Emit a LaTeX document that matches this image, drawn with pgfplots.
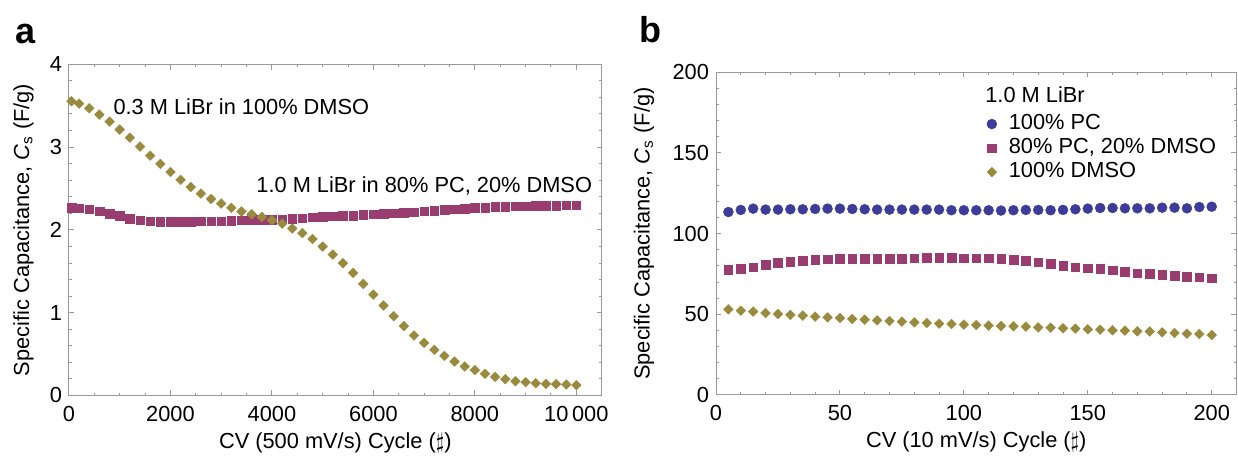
\documentclass[border=0pt]{standalone}
\usepackage{fontspec}
\setmainfont{Liberation Sans}
\usepackage{pgfplots}
\pgfplotsset{compat=1.18}
\definecolor{cblue}{rgb}{0.24,0.24,0.6}
\definecolor{cmag}{rgb}{0.6,0.24,0.443}
\definecolor{colive}{rgb}{0.6,0.547,0.24}
\definecolor{framec}{gray}{0.6}
\newcommand{\lblfont}{\fontsize{10.9}{13}\selectfont}
\pgfplotsset{
  myaxis/.style={
    scale only axis,
    anchor=south west,
    enlargelimits=false,
    axis line style={framec, line width=0.5pt},
    every tick/.style={framec, line width=0.5pt},
    major tick length=2.6pt,
    minor tick length=1.4pt,
    tick align=inside,
    /pgf/number format/assume math mode=true,
    tick label style={font=\lblfont, text=black},
    xticklabel style={anchor=base, yshift=-13pt},
    label style={font=\lblfont},
    xlabel style={at={(axis description cs:0.5,0)}, anchor=base, yshift=-26.5pt},
    clip=false,
  },
  pcs/.style={only marks, mark=*, mark size=2.5pt, color=cblue, mark options={fill=cblue, draw=cblue, line width=0.2pt}},
  mixs/.style={only marks, mark=square*, mark size=2.15pt, color=cmag, mark options={fill=cmag, draw=cmag, line width=0.2pt}},
  dmsos/.style={only marks, mark=square*, mark size=1.72pt, color=colive, mark options={fill=colive, draw=colive, line width=0.2pt, rotate=45}},
}
\begin{document}
\begin{tikzpicture}
\useasboundingbox (0,0) rectangle (619pt,229.5pt);
\node[anchor=base west, inner sep=0pt, font=\fontsize{18}{20}\selectfont\bfseries] at (7.5pt,207.5pt) {a};
\node[anchor=base west, inner sep=0pt, font=\fontsize{18}{20}\selectfont\bfseries] at (319.5pt,208.25pt) {b};

% ---------------- panel a ----------------
\begin{axis}[myaxis,
  at={(34.5pt,31.75pt)}, width=266.35pt, height=165.6pt,
  xmin=0, xmax=10500, ymin=0, ymax=4,
  xtick={0,2000,4000,6000,8000,10000},
  xticklabels={0,2000,4000,6000,8000,10\,000},
  minor x tick num=3,
  ytick={0,1,2,3,4}, minor y tick num=4,
  xlabel={CV (500 mV/s) Cycle ($\sharp$)},
  ylabel={Specific Capacitance, \textit{C}\textsubscript{s} (F/g)},
  ylabel style={at={(axis description cs:-0.0854,0.5)}, anchor=center},
]
\addplot[mixs] table {
x y
50 2.266
200 2.262
400 2.250
600 2.225
800 2.197
1000 2.169
1200 2.137
1400 2.118
1600 2.105
1800 2.097
2000 2.097
2200 2.097
2400 2.097
2600 2.105
2800 2.105
3000 2.105
3200 2.109
3400 2.117
3600 2.121
3800 2.125
4000 2.125
4200 2.129
4400 2.133
4600 2.141
4800 2.153
5000 2.161
5200 2.165
5400 2.169
5600 2.173
5800 2.181
6000 2.189
6200 2.193
6400 2.201
6600 2.209
6800 2.213
7000 2.225
7200 2.233
7400 2.241
7600 2.250
7800 2.258
8000 2.266
8200 2.270
8400 2.278
8600 2.282
8800 2.286
9000 2.286
9200 2.290
9400 2.290
9600 2.294
9800 2.298
10000 2.298
};
\addplot[dmsos] table {
x y
50 3.553
200 3.525
400 3.469
600 3.392
800 3.308
1000 3.211
1200 3.115
1400 3.006
1600 2.897
1800 2.797
2000 2.700
2200 2.604
2400 2.519
2600 2.439
2800 2.374
3000 2.318
3200 2.266
3400 2.221
3600 2.189
3800 2.157
4000 2.117
4200 2.076
4400 2.016
4600 1.960
4800 1.891
5000 1.799
5200 1.702
5400 1.598
5600 1.481
5800 1.348
6000 1.219
6200 1.087
6400 0.958
6600 0.837
6800 0.724
7000 0.636
7200 0.551
7400 0.479
7600 0.410
7800 0.350
8000 0.306
8200 0.262
8400 0.225
8600 0.197
8800 0.173
9000 0.161
9200 0.149
9400 0.141
9600 0.137
9800 0.133
10000 0.125
};
\node[anchor=base west, inner sep=0pt, font=\lblfont] at (axis cs:870,3.388) {0.3 M LiBr in 100\% DMSO};
\node[anchor=base east, inner sep=0pt, font=\lblfont] at (axis cs:10317,2.448) {1.0 M LiBr in 80\% PC, 20\% DMSO};
\end{axis}

% ---------------- panel b ----------------
\begin{axis}[myaxis,
  at={(358pt,32pt)}, width=260.25pt, height=161.35pt,
  xmin=0, xmax=210, ymin=0, ymax=200,
  xtick={0,50,100,150,200}, minor x tick num=4,
  ytick={0,50,100,150,200}, minor y tick num=4,
  xlabel={CV (10 mV/s) Cycle ($\sharp$)},
  ylabel={Specific Capacitance, \textit{C}\textsubscript{s} (F/g)},
  ylabel style={at={(axis description cs:-0.1383,0.5)}, anchor=center},
  legend image code/.code={\draw[#1] plot coordinates {(4.5pt,0pt)}; \path[draw=none,fill=none] (0pt,0pt) (12pt,0pt);},
  legend cell align=left,
  legend style={draw=none, fill=none, at={(axis cs:107.5,175.6)}, anchor=north west,
    inner sep=0pt, row sep=0pt, font=\lblfont,
    nodes={inner sep=1pt, text height=7.6pt, text depth=2.4pt}},
]
\addplot[pcs] table {
x y
5 113.4
10 114.7
15 115.5
20 114.9
25 114.9
30 115.1
35 115.1
40 115.3
45 115.5
50 115.5
55 115.3
60 115.1
65 114.9
70 114.9
75 114.9
80 114.9
85 114.9
90 114.9
95 114.5
100 114.5
105 114.5
110 114.5
115 114.3
120 114.5
125 114.7
130 114.7
135 114.5
140 114.7
145 115.1
150 115.5
155 115.9
160 115.9
165 115.7
170 115.7
175 115.7
180 116.1
185 116.1
190 115.7
195 116.5
200 116.7
};
\addlegendentry{100\% PC}
\addplot[mixs] table {
x y
5 77.5
10 78.1
15 79.1
20 80.8
25 82.0
30 82.6
35 83.3
40 83.9
45 84.1
50 84.3
55 84.5
60 84.5
65 84.5
70 84.5
75 84.5
80 84.9
85 85.1
90 85.1
95 85.1
100 84.9
105 84.7
110 84.7
115 84.3
120 83.7
125 83.1
130 82.4
135 81.2
140 80.2
145 79.3
150 78.7
155 78.1
160 77.3
165 76.4
170 75.6
175 75.2
180 74.6
185 74.0
190 73.3
195 72.9
200 72.3
};
\addlegendentry{80\% PC, 20\% DMSO}
\addplot[dmsos] table {
x y
5 53.1
10 52.3
15 51.7
20 50.8
25 50.2
30 49.6
35 49.2
40 48.6
45 48.1
50 47.7
55 47.1
60 46.7
65 46.3
70 45.9
75 45.5
80 45.0
85 44.6
90 44.2
95 44.0
100 43.6
105 43.4
110 43.0
115 42.8
120 42.6
125 42.4
130 41.9
135 41.7
140 41.3
145 41.1
150 40.7
155 40.5
160 40.1
165 39.9
170 39.5
175 39.3
180 38.8
185 38.4
190 38.0
195 37.8
200 37.2
};
\addlegendentry{100\% DMSO}
\node[anchor=base west, inner sep=0pt, font=\lblfont] at (axis cs:108.5,181.3) {1.0 M LiBr};
\end{axis}
\end{tikzpicture}
\end{document}
